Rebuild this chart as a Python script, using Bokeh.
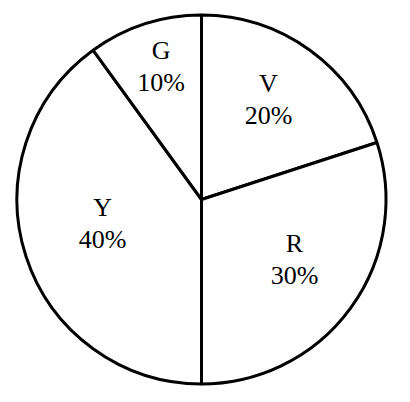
import math
from bokeh.plotting import figure
from bokeh.models import Range1d, ColumnDataSource
from bokeh.core.properties import value
from bokeh.embed import file_html
from bokeh.resources import INLINE

# data (clockwise from 12 o'clock)
categories = ["V", "R", "Y", "G"]
percents = [20, 30, 40, 10]

# label placement (distance from centre, px)
label_r = [114, 115, 104, 131]

cx, cy, R = 209, 195, 184.5

start, end, lx, ly_letter, ly_pct, pct_txt = [], [], [], [], [], []
cum = 0
for c, v, r in zip(categories, percents, label_r):
    a0 = 90 - cum * 3.6
    cum += v
    a1 = 90 - cum * 3.6
    start.append(math.radians(a0))
    end.append(math.radians(a1))
    mid = math.radians((a0 + a1) / 2)
    x = cx + r * math.cos(mid)
    y = cy + r * math.sin(mid)
    lx.append(x)
    ly_letter.append(y + 24)
    ly_pct.append(y - 8)
    pct_txt.append(f"{v}%")

src = ColumnDataSource(dict(start=start, end=end, cat=categories, pct=pct_txt,
                            lx=lx, lyl=ly_letter, lyp=ly_pct))

p = figure(width=394, height=386, output_backend="svg", toolbar_location=None,
           x_range=Range1d(8, 402), y_range=Range1d(8, 394), min_border=0)
p.axis.visible = False
p.grid.visible = False
p.outline_line_color = None
p.background_fill_color = "white"
p.border_fill_color = "white"

p.wedge(x=cx, y=cy, radius=R, start_angle="start", end_angle="end", direction="clock",
        fill_color="white", line_color="black", line_width=3, source=src)

p.text(x="lx", y="lyl", text="cat", source=src, text_align="center", text_baseline="alphabetic",
       text_font=value("Liberation Serif"), text_font_size="26px", text_color="black")
p.text(x="lx", y="lyp", text="pct", source=src, text_align="center", text_baseline="alphabetic",
       text_font=value("Liberation Serif"), text_font_size="26px", text_color="black")

open("out.html", "w").write(file_html(p, INLINE))
